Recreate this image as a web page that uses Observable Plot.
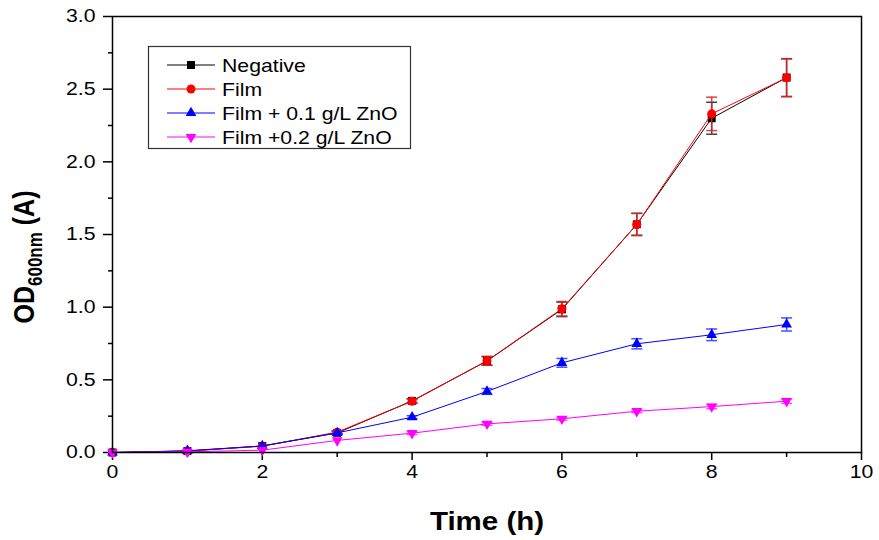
<!DOCTYPE html>
<html><head><meta charset="utf-8">
<script src="https://cdn.jsdelivr.net/npm/d3@7"></script>
<script src="https://cdn.jsdelivr.net/npm/@observablehq/plot@0.6"></script>
<style>
body{margin:0;background:#fff;}
#wrap{position:relative;width:879px;height:540px;}
</style></head>
<body><div id="wrap"></div>
<script>
const time = [0,1,2,3,4,5,6,7,8,9];
const negative = [0,0.01,0.045,0.135,0.355,0.63,0.985,1.57,2.30,2.58];
const negativeErr = [0,0.005,0.005,0.01,0.015,0.03,0.05,0.075,0.11,0.13];
const film = [0,0.01,0.043,0.14,0.353,0.631,0.989,1.569,2.33,2.578];
const filmErr = [0,0.005,0.005,0.01,0.015,0.03,0.05,0.077,0.115,0.13];
const zno01 = [0,0.012,0.045,0.135,0.243,0.42,0.617,0.748,0.81,0.881];
const zno01Err = [0,0.005,0.005,0.01,0.01,0.02,0.03,0.035,0.04,0.045];
const zno02 = [0,0.005,0.016,0.083,0.133,0.197,0.232,0.284,0.316,0.353];
const zno02Err = [0,0,0.005,0.005,0.01,0.01,0.01,0.01,0.015,0.015];
const seriesNames = ["Negative","Film","Film + 0.1 g/L ZnO","Film +0.2 g/L ZnO"];
const xTicks = [0,2,4,6,8,10];
const yTicks = [0,0.5,1,1.5,2,2.5,3];

const FONT = "'Liberation Sans', Arial, Helvetica, sans-serif";
const SX = 1.18; // horizontal stretch of the original figure's text

const styles = [
  {color:"#000000", symbol:"square", rotate:0, r:4.5, err:"#222"},
  {color:"#ff0000", symbol:"circle", rotate:0, r:4.5, err:"#d22"},
  {color:"#0000ff", symbol:"triangle", rotate:0, r:4, err:"#2233ff"},
  {color:"#ff00ff", symbol:"triangle", rotate:180, r:4, err:"#ff33ff"}
];
const vals = [negative, film, zno01, zno02];
const errs = [negativeErr, filmErr, zno01Err, zno02Err];

const capSym = {draw(ctx){ctx.moveTo(-5.5,0);ctx.lineTo(5.5,0);}};

const marks = [];
vals.forEach((v,i)=>{
  const data = time.map((t,j)=>({t, y:v[j], lo:v[j]-errs[i][j], hi:v[j]+errs[i][j]}));
  const s = styles[i];
  const ed = data.filter(d=>d.hi-d.lo>0.012);
  marks.push(Plot.ruleX(ed,{x:"t", y1:"lo", y2:"hi", stroke:s.err, strokeWidth:1.5, strokeOpacity:0.85}));
  marks.push(Plot.dot(ed,{x:"t", y:"hi", symbol:capSym, stroke:s.err, strokeWidth:1.5, strokeOpacity:0.85, r:3}));
  marks.push(Plot.dot(ed,{x:"t", y:"lo", symbol:capSym, stroke:s.err, strokeWidth:1.5, strokeOpacity:0.85, r:3}));
  marks.push(Plot.line(data,{x:"t", y:"y", stroke:s.color, strokeWidth:1}));
  marks.push(Plot.dot(data,{x:"t", y:"y", symbol:s.symbol, fill:s.color, r:s.r, rotate:s.rotate}));
});

const chart = Plot.plot({
  width:879, height:540,
  marginTop:16, marginRight:18, marginBottom:88, marginLeft:112,
  style:{fontSize:"18px", fontFamily:FONT, color:"#000", background:"#fff"},
  x:{domain:[0,10]},
  y:{domain:[0,3]},
  marks:[
    Plot.axisX({ticks:xTicks, tickSize:8, tickPadding:5, label:null, strokeWidth:1.5, fontSize:18}),
    Plot.axisX({ticks:[1,3,5,7,9], tickSize:5, tickFormat:()=>"", label:null, strokeWidth:1.5}),
    Plot.axisY({ticks:yTicks, tickSize:9, tickPadding:8, tickFormat:d3.format(".1f"), label:null, strokeWidth:1.5, fontSize:18}),
    Plot.axisY({ticks:[0.25,0.75,1.25,1.75,2.25,2.75], tickSize:4, tickFormat:()=>"", label:null, strokeWidth:1.5}),
    ...marks,
    Plot.frame({stroke:"#000", strokeWidth:1.5})
  ]
});
document.getElementById("wrap").appendChild(chart);

const svg = d3.select(chart);
// stretch tick labels horizontally like the original
svg.selectAll('g[aria-label="x-axis tick label"] text, g[aria-label="y-axis tick label"] text')
  .attr("transform", function(){ return (this.getAttribute("transform")||"") + ` scale(${SX},1)`; });

svg.append("text")
  .attr("transform",`translate(487,530) scale(${SX},1)`)
  .attr("text-anchor","middle").attr("font-size",25).attr("font-weight","bold")
  .attr("font-family",FONT).attr("fill","#000").text("Time (h)");

const yl = svg.append("text")
  .attr("transform",`translate(34,257) scale(${SX},1) rotate(-90)`)
  .attr("text-anchor","middle")
  .attr("font-size",25).attr("font-weight","bold")
  .attr("font-family",FONT).attr("fill","#000");
yl.append("tspan").text("OD");
yl.append("tspan").attr("font-size",17).attr("dy",7).text("600nm");
yl.append("tspan").attr("dy",-7).text(" (A)");

// legend
const lg = svg.append("g").attr("font-family",FONT).attr("text-anchor","start");
lg.append("rect").attr("x",148.5).attr("y",46.5).attr("width",262).attr("height",102)
  .attr("fill","#fff").attr("stroke","#333").attr("stroke-width",1.2);
const ys = [65,89,113,137];
seriesNames.forEach((n,i)=>{
  const s = styles[i];
  const g = lg.append("g").attr("transform",`translate(0,${ys[i]})`);
  g.append("line").attr("x1",167).attr("x2",215).attr("stroke",s.color).attr("stroke-width",1);
  const sym = {square:d3.symbolSquare, circle:d3.symbolCircle, triangle:d3.symbolTriangle}[s.symbol];
  g.append("path").attr("d",d3.symbol(sym, Math.PI*s.r*s.r)())
    .attr("transform",`translate(191,0) rotate(${s.rotate})`).attr("fill",s.color);
  g.append("text").attr("transform",`translate(222,6.5) scale(${SX},1)`)
    .attr("font-size",18).attr("fill","#000").text(n);
});
</script></body></html>
